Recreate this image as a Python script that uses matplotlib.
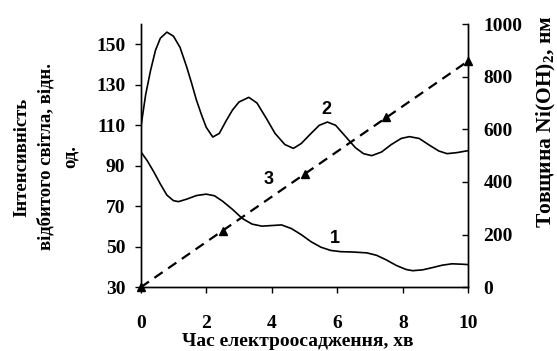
import numpy as np
import matplotlib
matplotlib.use('Agg')
import matplotlib.pyplot as plt

# curve 1 - reflected light intensity (left axis)
t1 = [0, 0.2, 0.4, 0.6, 0.8, 1.0, 1.15, 1.4, 1.7, 2.0, 2.25, 2.5, 2.8, 3.1, 3.4,
      3.7, 4.0, 4.3, 4.6, 4.9, 5.2, 5.5, 5.8, 6.1, 6.5, 6.9, 7.2, 7.5, 7.8, 8.1,
      8.3, 8.6, 8.9, 9.2, 9.5, 9.8, 10]
i1 = [97, 92.5, 87, 81, 75.5, 72.8, 72.3, 73.5, 75.3, 76, 75.2, 72.5, 68.5, 64,
      61.2, 60.2, 60.5, 60.8, 59, 56, 52.5, 49.8, 48.2, 47.6, 47.4, 47, 45.8,
      43.5, 40.8, 38.8, 38.2, 38.6, 39.7, 40.9, 41.6, 41.4, 41.2]

# curve 2 - reflected light intensity (left axis)
t2 = [0, 0.15, 0.3, 0.45, 0.6, 0.8, 1.0, 1.2, 1.4, 1.55, 1.7, 1.86, 2.0, 2.2,
      2.4, 2.6, 2.8, 3.0, 3.3, 3.55, 3.85, 4.1, 4.4, 4.66, 4.9, 5.2, 5.45, 5.7,
      5.95, 6.25, 6.55, 6.8, 7.05, 7.35, 7.65, 7.95, 8.2, 8.5, 8.8, 9.1, 9.35,
      9.65, 10]
i2 = [108.5, 125, 137, 147, 153, 156, 154, 148.5, 139, 131, 122.5, 115, 109,
      104.2, 106, 112, 117.5, 121.5, 123.8, 121, 113, 106, 100.5, 98.6, 101,
      106, 110, 111.6, 110, 104.5, 99, 96, 95, 96.8, 100.5, 103.5, 104.4, 103.5,
      100.3, 97.3, 96, 96.5, 97.5]

# curve 3 - Ni(OH)2 thickness (right axis)
t3 = [0, 2.5, 5, 7.5, 10]
d3 = [0, 215, 430, 645, 860]

serif = 'Liberation Serif'
sans = 'Liberation Sans'
plt.rcParams['mathtext.fontset'] = 'custom'
plt.rcParams['mathtext.rm'] = serif + ':bold'

fig = plt.figure(figsize=(5.57, 3.51), dpi=100)
ax = fig.add_axes([0.2526, 0.1815, 0.5882, 0.75])
ax2 = ax.twinx()

ax.plot(t1, i1, color='black', lw=1.2)
ax.plot(t2, i2, color='black', lw=1.2)
ax2.plot(t3, d3, color='black', lw=1.6, ls=(0, (4.5, 3)),
         marker='^', markersize=6, clip_on=False)

ax.set_xlim(0, 10)
ax.set_ylim(30, 160)
ax2.set_ylim(0, 1000)
ax.set_xticks([0, 2, 4, 6, 8, 10])
ax.set_yticks([30, 50, 70, 90, 110, 130, 150])
ax2.set_yticks([0, 200, 400, 600, 800, 1000])

for a in (ax, ax2):
    a.spines['top'].set_visible(False)
    for s in a.spines.values():
        s.set_linewidth(1.0)

ax.tick_params(axis='x', direction='out', length=4.5, width=1, pad=15.5)
ax.tick_params(axis='y', direction='out', length=4.5, width=1, pad=6.5)
ax2.tick_params(axis='y', direction='in', length=4.5, width=1, pad=11)

for lab in ax.get_xticklabels() + ax.get_yticklabels() + ax2.get_yticklabels():
    lab.set_fontfamily(serif)
    lab.set_fontweight('bold')
    lab.set_fontsize(14)

ax.set_xlabel('Час електроосадження, хв', fontfamily=serif, fontweight='bold',
              fontsize=14)
ax.xaxis.set_label_coords(0.48, -0.172)
ax.set_ylabel('Інтенсивність\nвідбитого світла, відн.\nод.', fontfamily=serif,
              fontweight='bold', fontsize=13.5, linespacing=1.5)
ax.yaxis.set_label_coords(-0.19, 0.495)
ax2.set_ylabel('Товщина Ni(OH)$_2$, нм', fontfamily=serif, fontweight='bold',
               fontsize=15.5, rotation=90)
ax2.yaxis.set_label_coords(1.203, 0.63)

ax.text(5.93, 54.3, '1', fontfamily=sans, fontweight='bold', fontsize=13,
        ha='center', va='center')
ax.text(5.66, 117.6, '2', fontfamily=sans, fontweight='bold', fontsize=13,
        ha='center', va='center')
ax.text(3.9, 83, '3', fontfamily=sans, fontweight='bold', fontsize=13,
        ha='center', va='center')

fig.savefig('out.png', dpi=100)
